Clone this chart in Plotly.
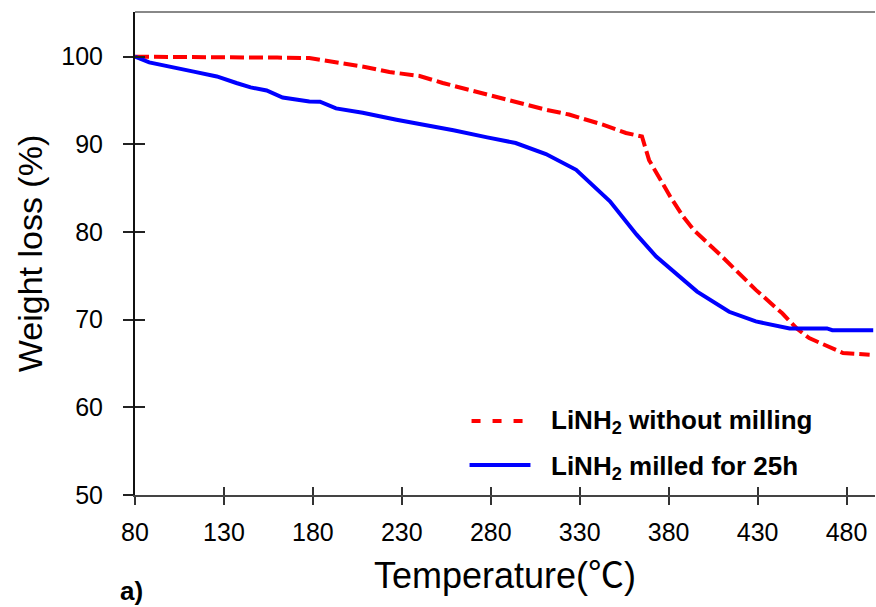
import plotly.graph_objects as go

# Data
temp_raw = [80, 100, 120, 143, 160, 178, 186, 197, 210, 223, 240, 253, 268, 278, 294, 311, 324,
            343, 356, 365, 369, 375, 381, 388, 394, 410, 429, 444, 452, 459, 470, 478, 493]
wt_raw = [100, 100, 100, 100, 99.9, 99.85, 99.6, 99.2, 98.8, 98.25, 97.8, 97.0, 96.2, 95.7, 94.8,
          93.95, 93.4, 92.25, 91.3, 90.9, 88.2, 86.0, 84.0, 81.8, 80.25, 77.2, 73.4, 70.7, 69.0,
          67.9, 66.9, 66.2, 66.0]

temp_mill = [80, 88, 113, 126, 137, 145, 154, 163, 178, 184, 193, 208, 227, 240, 259, 278, 294,
             311, 324, 328, 347, 362, 373, 396, 414, 429, 448, 469, 472, 495]
wt_mill = [100, 99.35, 98.3, 97.75, 97.0, 96.5, 96.15, 95.35, 94.9, 94.86, 94.1, 93.6, 92.8,
           92.35, 91.6, 90.8, 90.15, 88.9, 87.6, 87.1, 83.5, 79.7, 77.2, 73.2, 70.9, 69.8, 69.0,
           69.0, 68.8, 68.8]

x_ticks = [80, 130, 180, 230, 280, 330, 380, 430, 480]
y_ticks = [50, 60, 70, 80, 90, 100]
name_raw = "LiNH<sub>2</sub> without milling"
name_mill = "LiNH<sub>2</sub> milled for 25h"
x_title = "Temperature(<span style='font-family:Noto Sans CJK JP'>℃</span>)"
y_title = "Weight loss (%)"

X_RANGE = [80, 496]
Y_RANGE = [50, 105.1]
FONT = "Arial, Liberation Sans, sans-serif"

fig = go.Figure()
fig.add_trace(go.Scatter(x=temp_raw, y=wt_raw, mode="lines", name=name_raw,
                         line=dict(color="#ff0000", width=4, dash="14px,5px"), showlegend=False))
fig.add_trace(go.Scatter(x=temp_mill, y=wt_mill, mode="lines", name=name_mill,
                         line=dict(color="#0000ff", width=4), showlegend=False))
# overlay axes only to draw the inner half of the crossing ticks
fig.add_trace(go.Scatter(x=[None], y=[None], xaxis="x2", yaxis="y2", showlegend=False,
                         hoverinfo="skip"))

fig.update_layout(
    width=876, height=607,
    margin=dict(l=135, r=1, t=12, b=112),
    paper_bgcolor="white", plot_bgcolor="white",
    font=dict(family=FONT, color="black"),
    xaxis=dict(range=X_RANGE, tickvals=x_ticks, ticks="outside", ticklen=8, tickwidth=1.5,
               tickcolor="#333", showline=True, linecolor="#444", linewidth=2,
               showgrid=False, zeroline=False, tickfont=dict(size=25),
               ticklabelstandoff=6,
               title=dict(text=x_title, font=dict(size=36), standoff=14)),
    yaxis=dict(range=Y_RANGE, tickvals=y_ticks, ticks="outside", ticklen=10, tickwidth=1.5,
               tickcolor="#222", showline=True, linecolor="#111", linewidth=2,
               showgrid=False, zeroline=False, tickfont=dict(size=25),
               ticklabelstandoff=15,
               title=dict(text=y_title, font=dict(size=34), standoff=8)),
    xaxis2=dict(range=X_RANGE, tickvals=x_ticks, ticks="inside", ticklen=8, tickwidth=1.5,
                tickcolor="#333", showticklabels=False, showline=False, showgrid=False,
                zeroline=False, overlaying="x", anchor="y2"),
    yaxis2=dict(range=Y_RANGE, tickvals=y_ticks, ticks="inside", ticklen=10, tickwidth=1.5,
                tickcolor="#222", showticklabels=False, showline=False, showgrid=False,
                zeroline=False, overlaying="y", anchor="x2"),
    shapes=[
        dict(type="line", xref="paper", yref="paper", x0=0, x1=1, y0=1, y1=1,
             line=dict(color="#888", width=2)),
        dict(type="line", xref="paper", yref="paper", x0=(472 - 135) / 741, x1=(530 - 135) / 741,
             y0=(495 - 421) / 483, y1=(495 - 421) / 483,
             line=dict(color="#ff0000", width=4, dash="9px,12px")),
        dict(type="line", xref="paper", yref="paper", x0=(470 - 135) / 741, x1=(531 - 135) / 741,
             y0=(495 - 465) / 483, y1=(495 - 465) / 483,
             line=dict(color="#0000ff", width=4)),
    ],
    annotations=[
        dict(text="<b>" + name_raw + "</b>", xref="paper", yref="paper",
             x=(550 - 135) / 741, y=(495 - 421) / 483, xanchor="left", yanchor="middle",
             showarrow=False, font=dict(size=26, color="black")),
        dict(text="<b>" + name_mill + "</b>", xref="paper", yref="paper",
             x=(550 - 135) / 741, y=(495 - 467) / 483, xanchor="left", yanchor="middle",
             showarrow=False, font=dict(size=26, color="black")),
        dict(text="<b>a)</b>", xref="paper", yref="paper",
             x=(118 - 135) / 741, y=(495 - 591) / 483, xanchor="left", yanchor="middle",
             showarrow=False, font=dict(size=26, color="black")),
    ],
)

fig.write_html("out.html")
